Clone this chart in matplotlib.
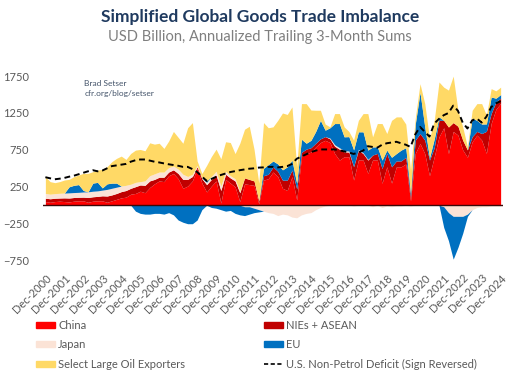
import numpy as np
import matplotlib
matplotlib.use('Agg')
import matplotlib.pyplot as plt
from matplotlib.patches import Patch
from matplotlib.lines import Line2D

plt.rcParams['font.family'] = ['Lato', 'DejaVu Sans']

# quarterly readings, Dec-2000 .. Dec-2024 (USD bn, annualized 3-month sums)
tick_years = list(range(2000, 2025))
tick_labels = [f'Dec-{y}' for y in tick_years]

china = [50, 40, 50, 55, 50, 45, 55, 60, 60, 40, 55, 60, 60, 40, 60, 80, 100, 110, 150, 160, 190, 170, 240, 290, 330,
         320, 400, 430, 360, 230, 260, 330, 500, 300, 180, 260, 330, 30, 350, 300, 250, 50, 290, 280, 270, 20, 340, 360, 450,
         390, 230, 200, 387, 72, 657, 700, 720, 790, 850, 880, 850, 700, 612, 657, 657, 342, 612, 612, 432, 612, 612, 297, 522,
         300, 520, 520, 560, 60, 702, 837, 700, 400, 657, 927, 1050, 700, 1000, 950, 750, 650, 860, 950, 882, 702, 1107, 1300, 1380]
nies = [45, 48, 45, 43, 50, 53, 50, 48, 50, 65, 60, 60, 68, 85, 80, 80, 85, 90, 80, 92, 85, 100, 90, 60, 50,
        60, 50, 50, 70, 120, 90, 60, 20, 60, 100, 90, 80, 170, 70, 70, 80, 120, 80, 70, 60, 40, 60, 60, 70,
        70, 110, 140, 90, 150, 60, 60, 60, 50, 50, 50, 50, 100, 148, 67, 63, 180, 135, 88, 180, 68, 90, 200, 180,
        220, 80, 80, 90, 57, 180, 135, 182, 212, 123, 225, 100, 360, 120, 120, 132, 100, 70, 50, 90, 300, 135, 100, 70]
japan = [65, 62, 63, 64, 65, 70, 67, 67, 70, 77, 75, 75, 77, 90, 90, 85, 75, 70, 55, 58, 45, 60, 70, 75, 70,
         70, 60, 50, 60, 70, 40, 30, 20, 10, 30, 40, 50, 60, 40, 30, 30, 20, -20, -20, -40, -60, -80, -100, -110,
         -140, -120, -130, -160, -170, -130, -110, -100, -60, -30, -10, 10, 20, 20, 15, 15, -10, 10, 10, 10, -20, 0, -30, -10,
         -20, -10, -10, 0, -10, 0, 0, 0, 0, 0, 0, -20, -100, -150, -150, -150, -120, -60, -30, -20, -20, -10, -10, -10]
eu = [0, 0, 0, 0, 0, 82, 98, 105, 20, 0, 110, 115, 30, 75, 70, 55, 0, 0, 0, -80, -110, -120, -120, -110, -110,
      -120, -100, -130, -200, -230, -250, -250, -200, -60, 20, -30, -40, -60, -80, -70, -110, -130, -120, -100, -60, -30, 100, 130, 80,
      100, 140, 180, 135, 75, 178, 80, 100, 160, 250, 87, 140, 287, 327, 188, 195, 228, 238, 285, 125, 110, 90, 115, 45,
      130, 100, 147, 130, 45, 218, 558, 180, 30, 120, 45, -280, -380, -580, -420, -230, -30, 250, 150, 128, 100, 225, 50, 50]
oil = [227, 170, 148, 158, 177, 101, 117, 130, 232, 250, 155, 167, 251, 232, 290, 335, 406, 351, 417, 437, 436, 408, 446, 403, 390,
       320, 360, 470, 430, 420, 660, 700, 60, 60, 210, 270, 300, 370, 400, 450, 340, 650, 660, 720, 430, 240, 620, 500, 462,
       590, 770, 710, 720, 225, 482, 537, 410, 287, 137, 83, 12, 135, 135, 135, 70, 132, 155, 247, 495, 137, 315, 495, 225,
       500, 497, 450, 320, 315, 80, 117, 315, 260, 252, 473, 450, 500, 630, 217, 180, 42, 107, 227, 277, 118, 113, 100, 100]
us_deficit = [380, 365, 352, 360, 370, 387, 400, 420, 440, 460, 475, 460, 470, 500, 530, 540, 550, 560, 590, 610, 620, 620, 605, 590, 580,
              567, 555, 545, 535, 520, 520, 490, 450, 390, 330, 355, 385, 410, 430, 450, 462, 475, 485, 495, 500, 510, 513, 520, 520,
              513, 520, 530, 560, 630, 660, 690, 720, 740, 756, 756, 756, 756, 745, 730, 715, 695, 715, 740, 800, 790, 780, 820, 840,
              850, 860, 840, 820, 790, 960, 1062, 995, 930, 1107, 1170, 1220, 1250, 1350, 1280, 1120, 1040, 1150, 1175, 1120, 1200, 1330, 1380, 1410]

series = [
    (china, 'China', '#FF0000'),
    (nies, 'NIEs + ASEAN', '#C00000'),
    (japan, 'Japan', '#FBE3D6'),
    (eu, 'EU', '#0070C0'),
    (oil, 'Select Large Oil Exporters', '#FFD966'),
]

n = len(china)
x = np.arange(n) * 3.0   # months after Dec-2000

fig = plt.figure(figsize=(5.2, 3.78), dpi=100)
fig.patch.set_facecolor('white')
ax = fig.add_axes([43 / 520, 110 / 378, 460 / 520, 203 / 378])

# positive values stack upward from zero, negative values stack downward
pos = np.zeros(n)
neg = np.zeros(n)
for vals, name, col in series:
    v = np.array(vals, dtype=float)
    up = np.clip(v, 0, None)
    dn = np.clip(v, None, 0)
    ax.fill_between(x, pos, pos + up, color=col, lw=0, zorder=2)
    ax.fill_between(x, neg, neg + dn, color=col, lw=0, zorder=2)
    pos += up
    neg += dn

ax.plot(x, us_deficit, color='black', lw=1.4, dashes=(3, 2), zorder=4)
ax.axhline(0, color='#3b0808', lw=1.0, zorder=3)

ax.set_xlim(-1.5, 289.5)
ax.set_ylim(-850, 1900)
ax.set_yticks([1750, 1250, 750, 250, -250, -750])
ax.set_xticks(np.arange(len(tick_labels)) * 12)
ax.set_xticklabels(tick_labels, rotation=45, ha='right', va='top', rotation_mode='anchor')
ax.tick_params(axis='both', length=0, labelsize=8, colors='#595959')
ax.tick_params(axis='y', pad=10)
ax.tick_params(axis='x', pad=3)
for s in ax.spines.values():
    s.set_visible(False)

ax.text(0.09, 0.925, 'Brad Setser\ncfr.org/blog/setser', transform=ax.transAxes,
        fontsize=6, color='#44546A', va='top', ha='left', linespacing=1.4)

fig.text(0.5, 1 - 17 / 378, 'Simplified Global Goods Trade Imbalance', ha='center', va='center',
         fontsize=12.5, fontweight='bold', color='#1F3A5F')
fig.text(0.5, 1 - 37 / 378, 'USD Billion, Annualized Trailing 3-Month Sums', ha='center', va='center',
         fontsize=10.5, color='#7F7F7F')

handles = [
    Patch(color='#FF0000', label='China'),
    Patch(color='#FBE3D6', label='Japan'),
    Patch(color='#FFD966', label='Select Large Oil Exporters'),
    Patch(color='#C00000', label='NIEs + ASEAN'),
    Patch(color='#0070C0', label='EU'),
    Line2D([0], [0], color='black', lw=1.2, dashes=(2.5, 1.5), label='U.S. Non-Petrol Deficit (Sign Reversed)'),
]
fig.legend(handles=handles, ncol=2, loc='upper left', bbox_to_anchor=(26 / 520, 1 - 310 / 378),
           frameon=False, fontsize=8, handlelength=1.7, handleheight=0.45, handletextpad=0.3,
           columnspacing=7.1, labelspacing=0.75, labelcolor='#595959')

fig.savefig('out.png', dpi=100, facecolor='white')
